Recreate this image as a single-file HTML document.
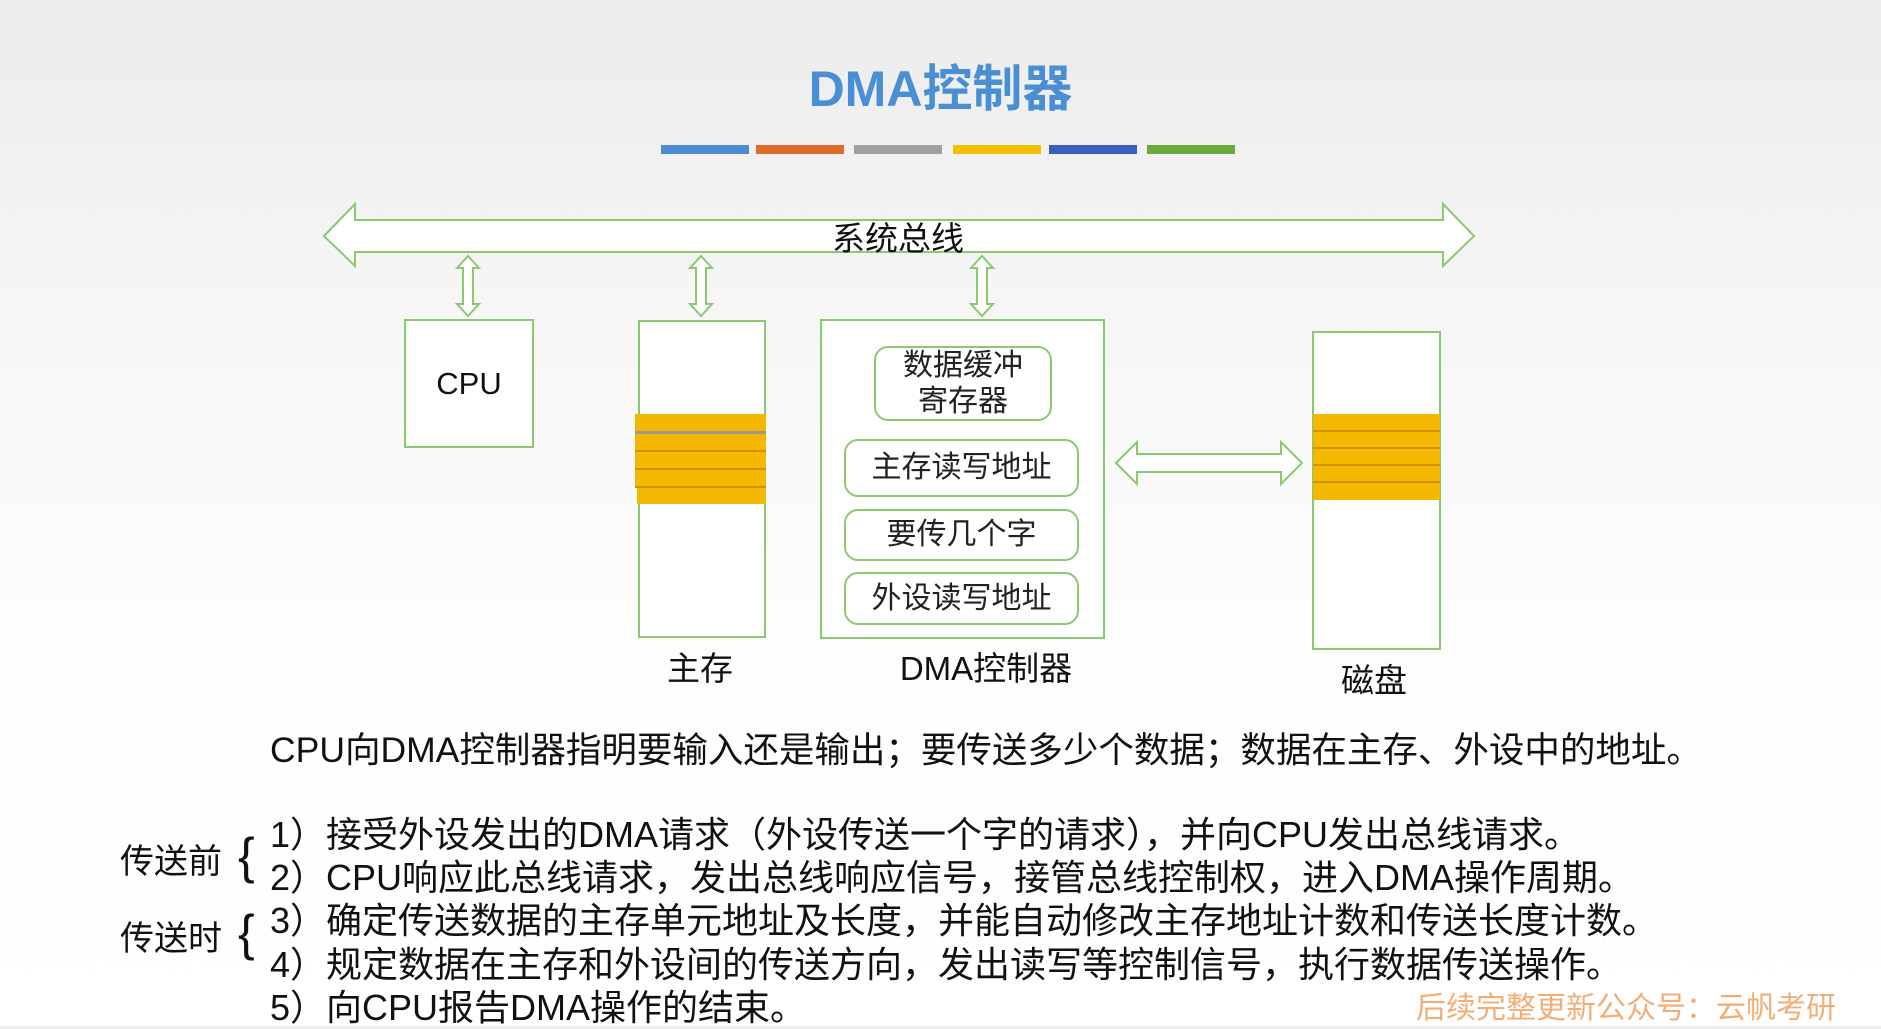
<!DOCTYPE html>
<html><head><meta charset="utf-8"><style>
html,body{margin:0;padding:0}
body{width:1881px;height:1026px;position:relative;overflow:hidden;background:linear-gradient(#ececec 0%,#f6f6f6 30%,#fdfdfd 60%,#ffffff 100%);font-family:"Liberation Sans","Noto Sans CJK SC",sans-serif;color:#111}
.a{position:absolute;white-space:nowrap}
.box{position:absolute;background:#fff;border:2px solid #8cc870;box-sizing:border-box}
.rb{position:absolute;background:#fff;border:2px solid #8cc870;border-radius:14px;box-sizing:border-box;display:flex;align-items:center;justify-content:center;text-align:center;font-size:30px;line-height:36px;color:#222}
.bar{position:absolute;top:145px;height:9px;width:88px}
.st{position:absolute;background:#f5b800;border-bottom:2px solid #c99400;box-sizing:border-box}
</style></head><body>
<div class="a" style="left:0;width:1881px;top:49px;text-align:center;font-size:50px;font-weight:bold;color:#4a8ed4">DMA控制器</div>
<div class="bar" style="left:661px;background:#4e8ad0"></div>
<div class="bar" style="left:756px;background:#e06a2c"></div>
<div class="bar" style="left:854px;background:#a0a0a0"></div>
<div class="bar" style="left:953px;background:#f2c000"></div>
<div class="bar" style="left:1049px;background:#3a5fc0"></div>
<div class="bar" style="left:1147px;background:#6aaa3a"></div>

<svg class="a" style="left:0;top:0" width="1881" height="1026">
<g fill="#fff" stroke="#8cc870" stroke-width="2">
<polygon points="324,236 355,204 355,220 1443,220 1443,204 1474,236 1443,266 1443,252 355,252 355,266"/>
<polygon points="468,256 479,268 473,268 473,304 479,304 468,316 457,304 463,304 463,268 457,268"/>
<polygon points="701,256 712,268 706,268 706,304 712,304 701,316 690,304 696,304 696,268 690,268"/>
<polygon points="982,256 993,268 987,268 987,304 993,304 982,316 971,304 977,304 977,268 971,268"/>
<polygon points="1116,463 1137,442 1137,454 1281,454 1281,442 1302,463 1281,484 1281,472 1137,472 1137,484"/>
</g>
</svg>
<div class="a" style="left:793px;top:212px;width:210px;text-align:center;font-size:33px">系统总线</div>

<div class="box" style="left:404px;top:319px;width:130px;height:129px;display:flex;align-items:center;justify-content:center;font-size:31px">CPU</div>

<div class="box" style="left:638px;top:320px;width:128px;height:318px"></div>
<div class="st" style="left:635px;top:414px;width:131px;height:20px;border-bottom:3px solid #999"></div>
<div class="st" style="left:635px;top:434px;width:131px;height:18px"></div>
<div class="st" style="left:635px;top:452px;width:131px;height:18px"></div>
<div class="st" style="left:635px;top:470px;width:131px;height:18px"></div>
<div class="st" style="left:637px;top:488px;width:129px;height:16px;border:none"></div>

<div class="box" style="left:820px;top:319px;width:285px;height:320px"></div>
<div class="rb" style="left:874px;top:346px;width:178px;height:75px">数据缓冲<br>寄存器</div>
<div class="rb" style="left:844px;top:439px;width:235px;height:58px">主存读写地址</div>
<div class="rb" style="left:844px;top:509px;width:235px;height:52px">要传几个字</div>
<div class="rb" style="left:844px;top:572px;width:235px;height:53px">外设读写地址</div>

<div class="box" style="left:1312px;top:331px;width:129px;height:319px"></div>
<div class="st" style="left:1313px;top:414px;width:127px;height:18px"></div>
<div class="st" style="left:1313px;top:432px;width:127px;height:17px"></div>
<div class="st" style="left:1313px;top:449px;width:127px;height:17px"></div>
<div class="st" style="left:1313px;top:466px;width:127px;height:17px"></div>
<div class="st" style="left:1313px;top:483px;width:127px;height:17px;border:none"></div>

<div class="a" style="left:650px;top:642px;width:100px;text-align:center;font-size:33px">主存</div>
<div class="a" style="left:881px;top:642px;width:210px;text-align:center;font-size:33px">DMA控制器</div>
<div class="a" style="left:1324px;top:654px;width:100px;text-align:center;font-size:33px">磁盘</div>

<div class="a" style="left:270px;top:722px;font-size:35.5px">CPU向DMA控制器指明要输入还是输出；要传送多少个数据；数据在主存、外设中的地址。</div>

<div class="a" style="left:120px;top:834px;font-size:34px">传送前</div>
<div class="a" style="left:120px;top:911px;font-size:34px">传送时</div>
<div class="a" style="left:238px;top:826px;font-size:50px;line-height:60px">{</div>
<div class="a" style="left:238px;top:903px;font-size:50px;line-height:60px">{</div>
<div class="a" style="left:270px;top:813px;font-size:36px;line-height:43.2px">1）接受外设发出的DMA请求（外设传送一个字的请求），并向CPU发出总线请求。<br>2）CPU响应此总线请求，发出总线响应信号，接管总线控制权，进入DMA操作周期。<br>3）确定传送数据的主存单元地址及长度，并能自动修改主存地址计数和传送长度计数。<br>4）规定数据在主存和外设间的传送方向，发出读写等控制信号，执行数据传送操作。<br>5）向CPU报告DMA操作的结束。</div>
<div class="a" style="left:1416px;top:983px;font-size:30px;color:#f0a060;opacity:.85">后续完整更新公众号：云帆考研</div>
</body></html>
